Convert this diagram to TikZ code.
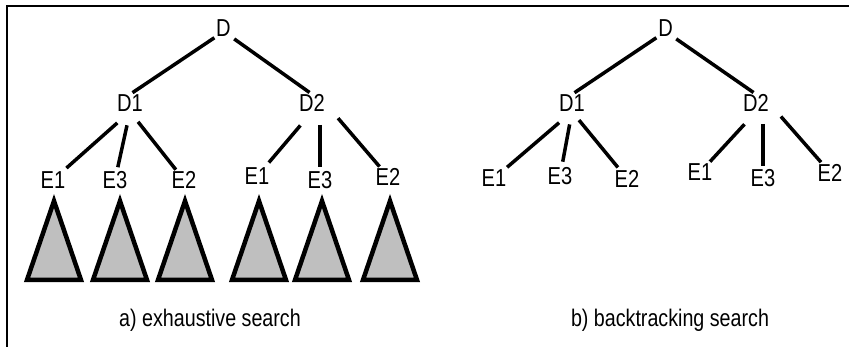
\documentclass[tikz,border=0pt]{standalone}
\usepackage{fontspec}
\setmainfont{Liberation Sans}[FakeStretch=0.82]
\begin{document}
\begin{tikzpicture}[x=1pt,y=-1pt,
  lbl/.style={inner sep=0pt,font=\fontsize{24.5}{29}\selectfont},
  captext/.style={inner sep=0pt,anchor=base,font=\fontsize{24}{29}\selectfont},
  edge/.style={line width=3.5pt,shorten >=3pt},
  subtree/.style={line width=4.5pt,line join=miter,fill=black!25,draw=black},
  frameline/.style={line width=2.2pt}]
\useasboundingbox (0,0) rectangle (849,347);
% frame
\draw[frameline] (7,347) -- (7,6) -- (849,6);
% ---------- a) exhaustive search ----------
\node[lbl] (D)   at (223.5,28) {D};
\node[lbl] (D1)  at (130,103) {D1};
\node[lbl] (D2)  at (312,103) {D2};
\node[lbl] (E1a) at (53,180) {E1};
\node[lbl] (E3a) at (115,180) {E3};
\node[lbl] (E2a) at (184,180) {E2};
\node[lbl] (E1b) at (257,176.5) {E1};
\node[lbl] (E3b) at (320,180) {E3};
\node[lbl] (E2b) at (388,176.5) {E2};
\draw[edge,shorten <=2pt] (D.south west) -- (D1.north);
\draw[edge,shorten <=4pt] (D.south east) -- (D2.north);
\draw[edge,shorten <=17pt,shorten >=5pt] (D1.south) -- (E1a);
\draw[edge,shorten <=14pt,shorten >=4pt] (D1.south) -- (E3a);
\draw[edge,shorten <=13pt,shorten >=2pt] (D1.south) -- (E2a);
\draw[edge,shorten <=18pt,shorten >=7pt] (D2.south) -- (E1b);
\draw[edge,shorten <=13pt,shorten >=4pt] (E3b.north |- D2.south) -- (E3b);
\draw[edge,shorten <=20pt,shorten >=1.5pt] (D2.east) -- (E2b);
\node[captext] (capa) at (210,327) {a) exhaustive search};
% subtrees
\foreach \x in {54,120,185,259,322,390}{
  \draw[subtree] (\x,201) -- (\x+27,280) -- (\x-27,280) -- cycle;
}
% ---------- b) backtracking search ----------
\node[lbl] (rD)   at (665.5,28) {D};
\node[lbl] (rD1)  at (572,103) {D1};
\node[lbl] (rD2)  at (756,103) {D2};
\node[lbl] (rE1a) at (494,178.5) {E1};
\node[lbl] (rE3a) at (560,176.5) {E3};
\node[lbl] (rE2a) at (627,178.5) {E2};
\node[lbl] (rE1b) at (700,172.5) {E1};
\node[lbl] (rE3b) at (763,178) {E3};
\node[lbl] (rE2b) at (830,172.5) {E2};
\draw[edge,shorten <=2pt] (rD.south west) -- (rD1.north);
\draw[edge,shorten <=4pt] (rD.south east) -- (rD2.north);
\draw[edge,shorten <=17pt,shorten >=4pt] (rD1.south) -- (rE1a);
\draw[edge,shorten <=13pt,shorten >=6pt] (rD1.south) -- (rE3a);
\draw[edge,shorten <=11pt,shorten >=3pt] (rD1.south) -- (rE2a);
\draw[edge,shorten <=17pt,shorten >=3pt] (rD2.south) -- (rE1b);
\draw[edge,shorten <=12pt,shorten >=3pt] (rE3b.north |- rD2.south) -- (rE3b);
\draw[edge,shorten <=18pt,shorten >=2pt] (rD2.east) -- (rE2b);
\node[captext] (capb) at (670,327) {b) backtracking search};
\end{tikzpicture}
\end{document}
